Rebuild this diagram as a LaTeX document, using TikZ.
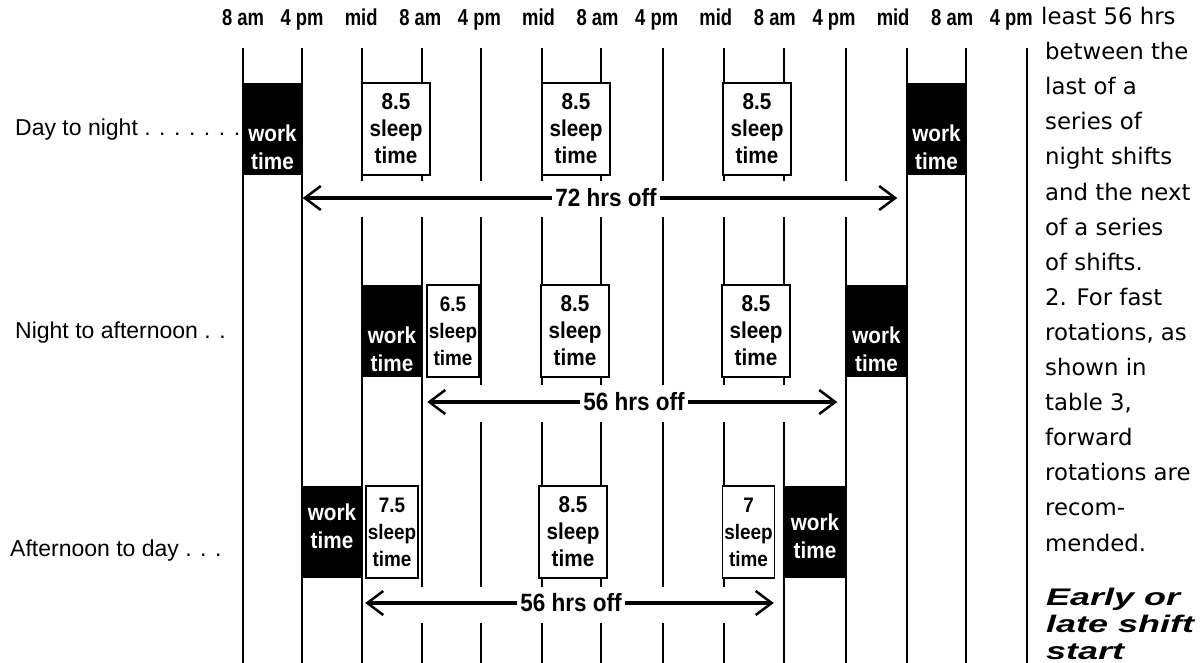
\documentclass[tikz,border=0pt]{standalone}
\usepackage{fontspec}
\setmainfont{Liberation Sans}
\newfontfamily\estrecha[FakeStretch=0.9]{Liberation Sans}
\newfontfamily\angosta[FakeStretch=0.8]{Liberation Sans}
\newfontfamily\notas{DejaVu Sans}
\newfontfamily\ancha[FakeStretch=1.5]{Liberation Sans}
\usetikzlibrary{arrows.meta}

\begin{document}
\begin{tikzpicture}[x=1pt,y=-1pt,
    hora/.style={anchor=base,font=\angosta\bfseries\fontsize{23}{23}\selectfont},
    turno/.style={anchor=base west,inner sep=0pt,font=\fontsize{23}{23}\selectfont},
    trabajo/.style={fill=black,minimum width=60pt,minimum height=92pt,inner sep=0pt},
    rotulo/.style={text=white,align=center,inner sep=0pt,font=\estrecha\bfseries\fontsize{23}{28}\selectfont},
    sueno/.style={draw,line width=1.8pt,fill=white,minimum width=68pt,minimum height=92pt,inner sep=0pt,
        align=center,font=\estrecha\bfseries\fontsize{23}{27}\selectfont},
    corto/.style={sueno,minimum width=52pt,font=\estrecha\bfseries\fontsize{21}{27}\selectfont},
    libre/.style={inner sep=3pt,font=\estrecha\bfseries\fontsize{25}{25}\selectfont},
    flecha/.style={line width=4pt,-{Straight Barb[length=16pt,width=24pt,line width=2.5pt]}},
    rejilla/.style={line width=2pt}]
    \useasboundingbox (0,0) rectangle (1203,663);
    % Horas
    \foreach \t [count=\i from 0] in {8 am,4 pm,mid,8 am,4 pm,mid,8 am,4 pm,mid,8 am,4 pm,mid,8 am,4 pm}
        \node[hora] (h\i) at ({243+59.1*\i},26) {\t};
    % Rejilla
    \foreach \x in {243,302,362,422,481,542,601,663,724,784,846,907,966,1027}
        \draw[rejilla] (\x,48) -- (\x,663);
    % Huecos de las flechas
    \fill[white] (306,181) rectangle (903,217);
    \fill[white] (426,385) rectangle (842,422);
    \fill[white] (366,587) rectangle (780,623);

    % Dia a noche
    \node[turno] (dn) at (15,136) {Day to night . . . . . . .};
    \node[trabajo] (wd1) at (272.5,129) {};
    \node[rotulo,yshift=-18.5pt] (td1) at (wd1) {work\\time};
    \node[sueno] (sd1) at (396,129) {8.5\\sleep\\time};
    \node[sueno] (sd2) at (576,129) {8.5\\sleep\\time};
    \node[sueno] (sd3) at (757,129) {8.5\\sleep\\time};
    \node[trabajo] (wd2) at (936.5,129) {};
    \node[rotulo,yshift=-18.5pt] (td2) at (wd2) {work\\time};
    \node[libre] (off1) at (606,198) {72 hrs off};
    \draw[flecha] (off1.west) -- (wd1.east |- off1);
    \draw[flecha] (off1.east) -- ([xshift=-9pt]wd2.west |- off1);

    % Noche a tarde
    \node[turno] (na) at (15,338) {Night to afternoon . .};
    \node[trabajo] (wn1) at (392,331) {};
    \node[rotulo,yshift=-18.5pt] (tn1) at (wn1) {work\\time};
    \node[corto] (sn1) at (453,331) {6.5\\sleep\\time};
    \node[sueno] (sn2) at (575,331) {8.5\\sleep\\time};
    \node[sueno] (sn3) at (756,331) {8.5\\sleep\\time};
    \node[trabajo] (wn2) at (876.5,331) {};
    \node[rotulo,yshift=-18.5pt] (tn2) at (wn2) {work\\time};
    \node[libre] (off2) at (634,402) {56 hrs off};
    \draw[flecha] (off2.west) -- ([xshift=5pt]wn1.east |- off2);
    \draw[flecha] (off2.east) -- ([xshift=-9pt]wn2.west |- off2);

    % Tarde a dia
    \node[turno] (ad) at (10,556) {Afternoon to day . . .};
    \node[trabajo] (wa1) at (332,532) {};
    \node[rotulo,yshift=6pt] (ta1) at (wa1) {work\\time};
    \node[corto] (sa1) at (392,532) {7.5\\sleep\\time};
    \node[sueno] (sa2) at (573,532) {8.5\\sleep\\time};
    \node[corto] (sa3) at (748.5,532) {7\\sleep\\time};
    \node[trabajo] (wa2) at (815,532) {};
    \node[rotulo,yshift=-4pt] (ta2) at (wa2) {work\\time};
    \node[libre] (off3) at (571,603) {56 hrs off};
    \draw[flecha] (off3.west) -- ([xshift=3pt]wa1.east |- off3);
    \draw[flecha] (off3.east) -- ([xshift=-11pt]wa2.west |- off3);

    % Texto de la derecha
    \node[anchor=north west,inner sep=0pt,align=left,font=\notas\fontsize{22.8}{35.1}\selectfont] (nota) at (1045,7)
        {\hspace*{-4pt}least 56 hrs\\between the\\last of a\\series of\\night shifts\\and the next\\of a series\\of shifts.\\
         2. For fast\\rotations, as\\shown in\\table 3,\\forward\\rotations are\\recom-\\mended.};
    \node[anchor=north west,inner sep=0pt,align=left,font=\ancha\bfseries\itshape\fontsize{24}{27}\selectfont] (tipo) at (1046,588)
        {Early or\\late shift\\start};
\end{tikzpicture}
\end{document}
